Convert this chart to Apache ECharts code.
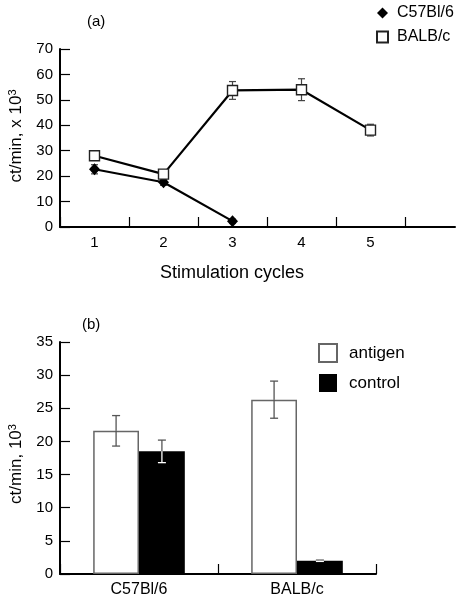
<!DOCTYPE html>
<html>
<head>
<meta charset="utf-8">
<script src="https://cdn.jsdelivr.net/npm/echarts@6/dist/echarts.min.js"></script>
<style>html,body{margin:0;padding:0;background:#fff}#c{width:458px;height:602px}</style>
</head>
<body>
<div id="c"></div>
<script>
// ---- data (panel a) ----
const cycles = ['1', '2', '3', '4', '5', ''];
const c57Mean = [22.7, 17.6, 2.3];
const c57Err = [1.8, 1.2, 0.8];
const balbMean = [28.0, 20.8, 53.7, 54.0, 38.1];
const balbErr = [1.8, 1.0, 3.5, 4.3, 2.3];
const yTicksA = { min: 0, max: 70, interval: 10 };
// ---- data (panel b) ----
const strains = ['C57Bl/6', 'BALB/c'];
const antigenMean = [21.6, 26.3];
const antigenErr = [2.3, 2.8];
const controlMean = [18.5, 2.0];
const controlErr = [1.7, 0.1];
const yTicksB = { min: 0, max: 35, interval: 5 };

const FONT = "'Liberation Sans', Arial, Helvetica, sans-serif";
const chart = echarts.init(document.getElementById('c'), null, { renderer: 'canvas' });

function errData(cats, mean, err) {
  return mean.map((m, i) => [cats[i], m, err[i]]);
}

function lineErr(params, api) {
  const x = api.value(0), m = api.value(1), e = api.value(2);
  const hi = api.coord([x, m + e]), lo = api.coord([x, m - e]);
  const h = 3.5;
  const st = { stroke: '#444', lineWidth: 1.2 };
  return { type: 'group', children: [
    { type: 'line', shape: { x1: hi[0], y1: hi[1], x2: lo[0], y2: lo[1] }, style: st },
    { type: 'line', shape: { x1: hi[0] - h, y1: hi[1], x2: hi[0] + h, y2: hi[1] }, style: st },
    { type: 'line', shape: { x1: lo[0] - h, y1: lo[1], x2: lo[0] + h, y2: lo[1] }, style: st }
  ]};
}

function barErr(sign, insideColor) {
  return function (params, api) {
    const x = api.value(0), m = api.value(1), e = api.value(2);
    const band = api.size([1, 0])[0];
    const barW = band * (1 - 0.42) / 2;
    const off = sign * barW / 2;
    const hi = api.coord([x, m + e]), lo = api.coord([x, m - e]), mid = api.coord([x, m]);
    const cx = hi[0] + off;
    const h = 4;
    const outside = { stroke: '#555', lineWidth: 1.3 };
    const inside = { stroke: insideColor, lineWidth: 1.3 };
    return { type: 'group', children: [
      { type: 'line', shape: { x1: cx, y1: hi[1], x2: cx, y2: mid[1] }, style: outside },
      { type: 'line', shape: { x1: cx - h, y1: hi[1], x2: cx + h, y2: hi[1] }, style: outside },
      { type: 'line', shape: { x1: cx, y1: mid[1], x2: cx, y2: lo[1] }, style: inside },
      { type: 'line', shape: { x1: cx - h, y1: lo[1], x2: cx + h, y2: lo[1] }, style: inside }
    ]};
  };
}

const axisTxt = { color: '#000', fontFamily: FONT };
const supStyle = { fontSize: 11, verticalAlign: 'top', padding: [0, 0, 8, 0], color: '#000', fontFamily: FONT };

const option = {
  animation: false,
  backgroundColor: '#fff',
  textStyle: { fontFamily: FONT, color: '#000' },
  title: [
    { text: '(a)', left: 87, top: 14, padding: 0, textStyle: { fontSize: 15, fontWeight: 'normal', color: '#000', fontFamily: FONT } },
    { text: '(b)', left: 82, top: 317, padding: 0, textStyle: { fontSize: 15, fontWeight: 'normal', color: '#000', fontFamily: FONT } }
  ],
  legend: [
    {
      orient: 'vertical', left: 376, top: 5, padding: 0, itemWidth: 11, itemHeight: 11, itemGap: 8,
      textStyle: { fontSize: 16, color: '#000', fontFamily: FONT, padding: [0, 0, 0, 4] },
      data: [{ name: 'C57Bl/6', icon: 'diamond' }, { name: 'BALB/c', icon: 'rect' }],
      selectedMode: false
    },
    {
      orient: 'vertical', left: 318, top: 343, padding: 0, itemWidth: 18, itemHeight: 18, itemGap: 11,
      textStyle: { fontSize: 17, color: '#000', fontFamily: FONT, padding: [0, 0, 0, 7] },
      data: [{ name: 'antigen', icon: 'rect' }, { name: 'control', icon: 'rect' }],
      selectedMode: false
    }
  ],
  grid: [
    { left: 60, top: 49, width: 414, height: 178, outerBoundsMode: 'none' },
    { left: 60, top: 49, width: 395, height: 178, outerBoundsMode: 'none' },
    { left: 60, top: 342, width: 316, height: 232, outerBoundsMode: 'none' }
  ],
  xAxis: [
    {
      gridIndex: 0, type: 'category', data: cycles, boundaryGap: true,
      axisLine: { show: false },
      axisTick: { show: true, inside: true, length: 10, lineStyle: { color: '#000', width: 1.2 } },
      axisLabel: { ...axisTxt, fontSize: 15, margin: 8 },
      name: 'Stimulation cycles', nameLocation: 'middle', nameGap: 37,
      nameTextStyle: { ...axisTxt, fontSize: 18, padding: [0, 70, 0, 0] },
      splitLine: { show: false }
    },
    {
      gridIndex: 1, type: 'value', min: 0, max: 1,
      axisLine: { show: true, onZero: false, lineStyle: { color: '#000', width: 2 } },
      axisTick: { show: false }, axisLabel: { show: false }, splitLine: { show: false }
    },
    {
      gridIndex: 2, type: 'category', data: strains, boundaryGap: true,
      axisLine: { show: true, lineStyle: { color: '#000', width: 2 } },
      axisTick: { show: true, inside: true, length: 10, lineStyle: { color: '#000', width: 1.2 } },
      axisLabel: { ...axisTxt, fontSize: 16, margin: 8 },
      splitLine: { show: false }
    }
  ],
  yAxis: [
    {
      gridIndex: 0, type: 'value', ...yTicksA,
      axisLine: { show: true, lineStyle: { color: '#000', width: 2 } },
      axisTick: { show: true, inside: true, length: 10, lineStyle: { color: '#000', width: 1.2 } },
      axisLabel: { ...axisTxt, fontSize: 15, margin: 7 },
      splitLine: { show: false },
      name: 'ct/min, x 10{sup|3}', nameLocation: 'middle', nameGap: 34, nameRotate: 90,
      nameTextStyle: { ...axisTxt, fontSize: 17, padding: [0, 0, 0, 4], rich: { sup: supStyle } }
    },
    { gridIndex: 1, type: 'value', show: false, min: 0, max: 1 },
    {
      gridIndex: 2, type: 'value', ...yTicksB,
      axisLine: { show: true, lineStyle: { color: '#000', width: 2 } },
      axisTick: { show: true, inside: true, length: 10, lineStyle: { color: '#000', width: 1.2 } },
      axisLabel: { ...axisTxt, fontSize: 15, margin: 7 },
      splitLine: { show: false },
      name: 'ct/min, 10{sup|3}', nameLocation: 'middle', nameGap: 34, nameRotate: 90,
      nameTextStyle: { ...axisTxt, fontSize: 17, padding: [0, 12, 0, 0], rich: { sup: supStyle } }
    }
  ],
  series: [
    {
      type: 'custom', name: 'c57err', xAxisIndex: 0, yAxisIndex: 0, z: 1,
      renderItem: lineErr, data: errData(cycles, c57Mean, c57Err), encode: { x: 0, y: 1 }, silent: true
    },
    {
      type: 'custom', name: 'balberr', xAxisIndex: 0, yAxisIndex: 0, z: 1,
      renderItem: lineErr, data: errData(cycles, balbMean, balbErr), encode: { x: 0, y: 1 }, silent: true
    },
    {
      type: 'line', name: 'C57Bl/6', xAxisIndex: 0, yAxisIndex: 0, z: 3,
      data: c57Mean, symbol: 'diamond', symbolSize: [11, 12],
      lineStyle: { color: '#000', width: 2.2 },
      itemStyle: { color: '#000', borderColor: '#000', borderWidth: 0 }
    },
    {
      type: 'line', name: 'BALB/c', xAxisIndex: 0, yAxisIndex: 0, z: 4,
      data: balbMean, symbol: 'rect', symbolSize: 10,
      lineStyle: { color: '#000', width: 2.2 },
      itemStyle: { color: '#fff', borderColor: '#222', borderWidth: 1.4 }
    },
    {
      type: 'bar', name: 'antigen', xAxisIndex: 2, yAxisIndex: 2,
      data: antigenMean, barCategoryGap: '42%', barGap: '0%',
      itemStyle: { color: '#fff', borderColor: '#666', borderWidth: 1.5 }
    },
    {
      type: 'bar', name: 'control', xAxisIndex: 2, yAxisIndex: 2,
      data: controlMean, barCategoryGap: '42%', barGap: '0%',
      itemStyle: { color: '#000', borderColor: '#000', borderWidth: 0 }
    },
    {
      type: 'custom', name: 'antErr', xAxisIndex: 2, yAxisIndex: 2, z: 5,
      renderItem: barErr(-1, '#555'), data: errData(strains, antigenMean, antigenErr), encode: { x: 0, y: 1 }, silent: true
    },
    {
      type: 'custom', name: 'ctlErr', xAxisIndex: 2, yAxisIndex: 2, z: 5,
      renderItem: barErr(1, '#fff'), data: errData(strains, controlMean, controlErr), encode: { x: 0, y: 1 }, silent: true
    }
  ]
};
chart.setOption(option);
</script>
</body>
</html>
